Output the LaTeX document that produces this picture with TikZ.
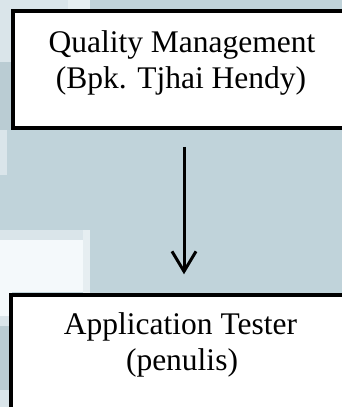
\documentclass[tikz,border=0pt]{standalone}
\usepackage{fontspec}
\setmainfont{Liberation Serif}
\usetikzlibrary{arrows.meta}
\definecolor{bgblue}{RGB}{192,211,218}
\definecolor{bglight}{RGB}{218,229,234}
\definecolor{bgpale}{RGB}{230,238,241}
\definecolor{bgwhite}{RGB}{244,249,251}
\definecolor{bgdark}{RGB}{186,204,211}
\tikzset{
  orgbox/.style={draw=black, line width=3.5pt, fill=white, rectangle, inner sep=0pt},
  lbl/.style={anchor=base, inner sep=0pt, font=\fontsize{31.5}{36}\selectfont},
  link/.style={line width=3pt, -{Straight Barb[length=20pt,width=24pt,line width=3pt]}}
}
\begin{document}
\begin{tikzpicture}[x=1pt,y=-1pt]
\useasboundingbox (0,0) rectangle (342,407);
\clip (0,0) rectangle (342,407);
% background
\fill[bgblue] (0,0) rectangle (342,407);
\fill[bglight] (0,0) rectangle (68,62);
\fill[bgpale] (68,0) rectangle (90,10);
\fill[bgdark] (0,62) rectangle (12,130);
\fill[bglight] (0,130) rectangle (7,175);
\fill[bglight] (0,230) rectangle (83,240);
\fill[bgwhite] (0,240) rectangle (83,292);
\fill[bgpale] (83,230) rectangle (90,295);
\fill[bgwhite] (0,292) rectangle (12,316);
\fill[bglight] (0,316) rectangle (12,326);
\fill[bgdark] (0,326) rectangle (12,390);
\fill[bglight] (0,390) rectangle (12,407);
% boxes
\node[orgbox, minimum width=342pt, minimum height=117pt] (qm) at (184,69.5) {};
\node[orgbox, minimum width=346pt, minimum height=160pt] (at) at (184,375) {};
% texts
\node[lbl] (qm1) at (182,52) {Quality Management};
\node[lbl] (qm2) at (181,88) {(Bpk. Tjhai Hendy)};
\node[lbl] (at1) at (180.5,334) {Application Tester};
\node[lbl] (at2) at (182,370) {(penulis)};
% arrow
\draw[link, shorten <=17pt, shorten >=19pt] (qm.south) -- (at.north);
\end{tikzpicture}
\end{document}
